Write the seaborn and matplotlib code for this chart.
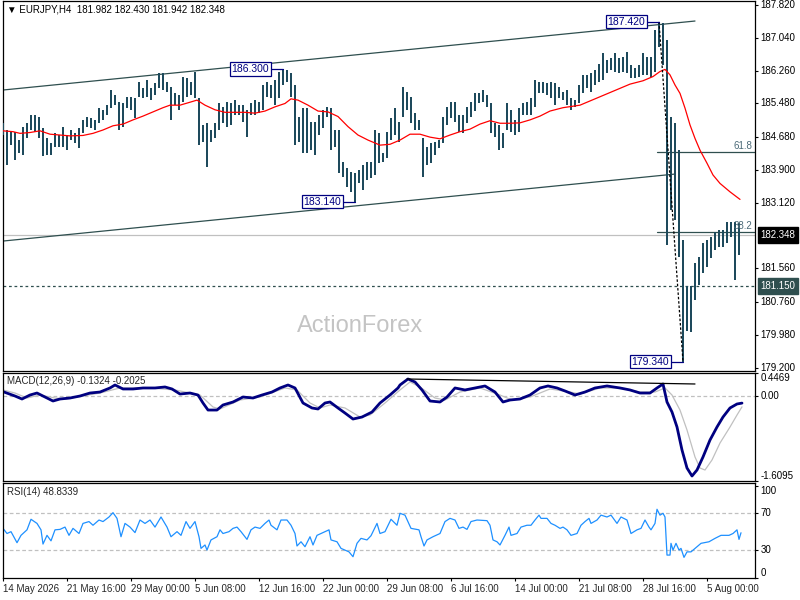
import matplotlib
matplotlib.use("Agg")
import matplotlib.pyplot as plt
import matplotlib.transforms as mtransforms
import numpy as np
import seaborn as sns

# ---- price bars (EURJPY H4), one drawn bar per two H4 bars ----
bar_high = [
    185.01, 184.85, 184.81, 184.81, 184.61, 184.93, 185.01, 185.21, 185.21, 185.17,
    184.89, 184.65, 184.53, 184.77, 184.73, 184.93, 184.73, 184.85, 184.77, 184.89,
    185.09, 185.17, 185.13, 185.09, 185.37, 185.33, 185.44, 185.80, 185.68, 185.52,
    185.48, 185.64, 185.64, 185.60, 186.00, 185.84, 186.04, 185.84, 185.96, 186.20,
    186.20, 186.00, 185.88, 185.72, 185.68, 186.12, 186.08, 186.00, 186.24, 185.60,
    184.97, 185.01, 184.85, 185.01, 185.48, 185.40, 185.52, 185.48, 185.56, 185.44,
    185.44, 185.33, 185.48, 185.56, 185.52, 185.92, 186.00, 185.92, 186.04, 186.22,
    186.30, 186.28, 186.20, 185.92, 185.17, 185.37, 185.37, 185.05, 185.05, 185.21,
    185.33, 185.40, 185.37, 184.85, 184.85, 184.10, 183.94, 183.86, 183.82, 183.90,
    184.02, 184.10, 184.10, 184.85, 184.77, 184.30, 184.81, 185.13, 185.37, 185.05,
    185.88, 185.76, 185.64, 185.25, 185.09, 184.65, 184.45, 184.53, 184.57, 184.61,
    185.17, 185.40, 185.52, 185.52, 185.21, 185.21, 185.40, 185.52, 185.72, 185.72,
    185.80, 185.68, 185.48, 185.01, 184.97, 184.77, 185.48, 185.33, 185.09, 185.37,
    185.48, 185.52, 185.60, 186.04, 186.00, 186.00, 185.96, 186.00, 185.96, 185.88,
    185.76, 185.80, 185.60, 185.56, 185.92, 186.16, 186.16, 186.20, 186.28, 186.43,
    186.67, 186.51, 186.55, 186.67, 186.55, 186.59, 186.71, 186.39, 186.32, 186.39,
    186.67, 186.59, 186.59, 187.23, 187.42, 187.40, 186.99, 185.17, 185.01, 184.37,
    182.23, 181.13, 181.13, 181.68, 181.84, 182.16, 182.23, 182.31, 182.43, 182.47,
    182.47, 182.67, 182.67, 182.67, 182.63,
]
bar_low = [
    184.73, 184.02, 184.49, 184.14, 184.30, 184.26, 184.65, 184.85, 184.81, 184.65,
    184.22, 184.26, 184.26, 184.45, 184.45, 184.45, 184.37, 184.61, 184.53, 184.41,
    184.77, 184.93, 184.89, 184.85, 185.01, 185.09, 185.21, 185.37, 185.44, 184.85,
    184.93, 185.37, 185.33, 185.13, 185.64, 185.60, 185.64, 185.56, 185.68, 185.84,
    185.80, 185.76, 185.09, 185.44, 185.33, 185.52, 185.64, 185.68, 185.60, 184.49,
    184.57, 183.98, 184.57, 184.65, 184.85, 185.01, 184.93, 184.97, 185.21, 185.21,
    185.05, 184.69, 185.21, 185.21, 185.25, 185.33, 185.64, 185.60, 185.44, 185.60,
    185.92, 186.00, 185.64, 184.49, 184.57, 184.30, 184.30, 184.37, 184.26, 184.73,
    184.89, 185.17, 184.37, 184.45, 183.82, 183.74, 183.50, 183.38, 183.14, 183.58,
    183.42, 183.66, 183.70, 183.78, 184.06, 184.10, 184.18, 184.61, 184.73, 184.57,
    185.17, 185.33, 185.01, 184.85, 184.85, 183.74, 184.02, 184.06, 184.26, 184.41,
    184.53, 184.97, 185.13, 185.05, 184.81, 184.77, 185.01, 185.17, 185.29, 185.48,
    185.52, 185.40, 184.77, 184.69, 184.37, 184.41, 184.85, 184.81, 184.73, 184.81,
    185.21, 185.21, 185.21, 185.40, 185.72, 185.72, 185.68, 185.60, 185.44, 185.60,
    185.56, 185.44, 185.33, 185.40, 185.48, 185.72, 185.84, 185.76, 185.92, 186.00,
    186.04, 186.20, 186.28, 186.24, 186.20, 186.24, 186.20, 186.08, 186.08, 186.12,
    186.16, 186.16, 186.12, 186.24, 186.83, 186.39, 182.12, 182.95, 182.71, 181.84,
    179.34, 180.08, 180.05, 180.81, 181.17, 181.44, 181.60, 181.80, 182.00, 182.08,
    182.08, 182.16, 182.31, 181.28, 181.88,
]

# moving average (red)
ma_t = [0, 5, 8.5, 13.5, 18.5, 23.5, 28.5, 33.5, 40, 45,
        50, 55, 60, 65, 70, 75, 80, 83.5, 88.5, 93.5,
        97, 101, 106, 111, 116, 121, 126, 131, 136, 141,
        144, 147.5, 152.5, 157.5, 162.5, 167.5, 172.5, 177.5, 182.5, 188.5,
        193.5, 198.5, 203.5, 208.5, 213.5, 218.5, 223.5, 228.5, 233.5, 238.5,
        243.5, 248.5, 253.5, 258.5, 263.5, 268.5, 273.5, 280, 288.5, 298.5,
        308.5, 313.5, 320, 325, 328.5, 331, 333.5, 336, 338.5, 341,
        343.5, 346, 348.5, 352, 355, 358.5, 363.5, 368.5]
ma_val = [184.83, 184.81, 184.77, 184.79, 184.83, 184.75, 184.73, 184.71, 184.72, 184.77,
          184.85, 184.95, 184.99, 185.09, 185.18, 185.28, 185.38, 185.44, 185.44, 185.51,
          185.56, 185.44, 185.33, 185.27, 185.27, 185.27, 185.25, 185.30, 185.40, 185.48,
          185.59, 185.56, 185.44, 185.30, 185.28, 185.17, 184.93, 184.73, 184.61, 184.49,
          184.51, 184.61, 184.75, 184.75, 184.68, 184.64, 184.73, 184.81, 184.87, 184.99,
          185.07, 185.01, 185.01, 185.02, 185.09, 185.18, 185.30, 185.38, 185.44, 185.64,
          185.84, 185.94, 186.02, 186.12, 186.24, 186.29, 186.16, 185.92, 185.72, 185.37,
          184.97, 184.65, 184.37, 184.06, 183.78, 183.58, 183.38, 183.20]

# MACD(12,26,9)
macd_t = [0, 6, 9.5, 13.5, 17, 21, 25, 28.5, 33.5, 38.5,
          43.5, 48.5, 53.5, 56, 60, 65, 70, 76, 81, 84.5,
          88.5, 93.5, 97.5, 100, 102.5, 107, 110, 115, 120, 125,
          129.5, 134.5, 138.5, 142.5, 146, 150, 154.5, 157.5, 161, 163.5,
          167.5, 171, 175, 179.5, 184.5, 188.5, 193.5, 197.5, 198.5, 202.5,
          206, 209.5, 213.5, 218.5, 222, 226, 231, 236, 241, 246,
          250, 253.5, 258.5, 263.5, 268.5, 272.5, 277, 281, 286, 291,
          296, 302, 308.5, 313.5, 318.5, 323.5, 327, 330, 332, 334.5,
          337, 339.5, 342, 344.5, 347, 350, 353.5, 357, 360, 363.5,
          367, 369.5]
macd_v = [0.086, 0.003, -0.054, 0.022, 0.060, -0.016, -0.092, -0.054, -0.035, 0.003,
          0.060, 0.079, 0.156, 0.213, 0.137, 0.137, 0.156, 0.156, 0.175, 0.137,
          0.041, 0.060, 0.022, -0.130, -0.264, -0.264, -0.168, -0.111, -0.016, -0.035,
          0.022, 0.079, 0.156, 0.213, 0.156, -0.130, -0.225, -0.244, -0.130, -0.111,
          -0.225, -0.321, -0.435, -0.397, -0.302, -0.130, 0.022, 0.156, 0.213, 0.327,
          0.270, 0.118, -0.092, -0.111, -0.016, 0.156, 0.118, 0.156, 0.194, 0.079,
          -0.111, -0.073, -0.054, 0.022, 0.156, 0.194, 0.156, 0.099, 0.022, 0.079,
          0.156, 0.194, 0.156, 0.118, 0.060, 0.060, 0.156, 0.232, -0.111, -0.302,
          -0.587, -1.025, -1.368, -1.520, -1.406, -1.158, -0.835, -0.587, -0.397, -0.225,
          -0.149, -0.132]
sig_t = [0, 6, 12, 18.5, 26, 31, 48.5, 58.5, 73.5, 86,
         93.5, 98.5, 105, 108.5, 118.5, 128.5, 141, 147, 153.5, 158.5,
         163.5, 171, 178.5, 183.5, 191, 198.5, 203.5, 208.5, 216, 221,
         228.5, 238.5, 248.5, 254.5, 263.5, 273.5, 283.5, 288.5, 298.5, 308.5,
         318.5, 326, 331, 334.5, 338.5, 342, 346, 348.5, 351, 354.5,
         358.5, 363.5, 367, 369.5]
sig_v = [0.118, 0.060, -0.035, 0.022, -0.035, -0.054, 0.060, 0.156, 0.156, 0.118,
         0.060, 0.022, -0.206, -0.244, -0.073, -0.016, 0.156, 0.118, -0.130, -0.225,
         -0.168, -0.225, -0.397, -0.359, -0.130, 0.118, 0.270, 0.175, -0.035, -0.073,
         0.079, 0.156, 0.022, -0.073, -0.016, 0.137, 0.079, 0.041, 0.156, 0.156,
         0.079, 0.079, 0.156, 0.022, -0.264, -0.644, -1.158, -1.368, -1.406, -1.215,
         -0.892, -0.587, -0.359, -0.203]

# RSI(14)
rsi_t = [0, 2, 4, 7, 9, 12, 14, 17, 19, 20,
         22, 24, 26, 28.5, 31, 33, 35, 38, 40, 43,
         45, 48, 50, 53, 55, 57, 59, 61, 63.5, 66,
         68.5, 71, 73.5, 76, 79, 82, 84, 87, 89, 91.5,
         93.5, 96, 98, 99, 101, 102, 104, 107, 108.5, 110,
         113, 115, 117, 119, 122, 124, 126, 128.5, 131, 133,
         134, 137, 139, 142, 144, 146, 147, 149, 151, 153.5,
         155, 157, 159, 163, 164, 167, 169, 173, 175, 177,
         179, 182, 184, 187, 188.5, 191, 194, 197, 198.5, 201,
         204, 208, 209, 210.5, 212, 215, 218.5, 221, 223.5, 226,
         228, 230, 232, 234, 237, 242, 243.5, 245, 247, 248.5,
         251, 253, 254, 257, 259, 262, 264, 266, 268, 269,
         272, 274, 276, 278.5, 280, 282, 284, 287, 289, 291,
         293, 294, 297, 299, 302, 304, 307, 309, 312, 314,
         317, 319, 321, 323, 324, 326, 327, 328.5, 330, 331,
         332, 333.5, 334, 335, 336.5, 338, 339, 340.5, 342, 344,
         347, 349, 353, 356, 359, 363, 365, 367, 368, 369]
rsi_v = [53.6, 48, 50, 38, 46, 52, 63.5, 59, 52, 36.5,
         46, 40, 52, 52.5, 55, 46, 53.6, 48, 59, 61,
         57, 62.7, 61, 66, 70.7, 64.5, 44.5, 59, 55, 49,
         62.7, 59, 62.7, 55, 66, 55, 44.5, 50, 46, 61,
         53.6, 61, 44.5, 31.8, 35.5, 30, 41, 44.5, 52, 48,
         50, 53.6, 55, 50, 41.6, 52, 55, 53.6, 59, 62.7,
         57, 52, 62.7, 62.7, 57, 48, 34.4, 39, 33.6, 44.5,
         35.5, 46, 48, 52, 41, 39, 31.8, 28, 22.7, 37.3,
         42.7, 41, 45.6, 59, 48, 50, 63.5, 57, 70, 68,
         53.6, 52, 44.5, 34.4, 41, 44.5, 48, 61, 64.5, 62.7,
         53.6, 55, 52.5, 61, 62.7, 62, 57, 41, 39, 35.5,
         46, 55, 46, 48, 55, 57, 57, 62.7, 68, 64.5,
         64.5, 59, 57, 53.6, 55, 52, 46, 48, 57, 61,
         64.5, 59, 62.7, 68, 66, 68, 59, 66, 62.7, 48,
         52, 53.6, 62.7, 55, 52, 59, 74.4, 68, 70, 66,
         24.5, 24.5, 37.3, 30, 37.3, 30, 31.8, 22, 28, 28,
         33.6, 37.3, 39, 42.7, 46, 46, 48, 52, 41.6, 48.83]

# swing labels, channel, levels
swing_t = [140, 176, 328, 340]
swing_price = [186.30, 183.14, 187.42, 179.34]
upper_t, upper_p = [0, 346], [185.80, 187.44]
lower_t, lower_p = [0, 335.5], [182.21, 183.80]
macd_trend_t, macd_trend_v = [202, 346], [0.327, 0.232]
fib_ratios = [61.8, 38.2]
last_price = 182.348
support = 181.150

date_labels = ['14 May 2026', '21 May 16:00', '29 May 00:00', '5 Jun 08:00',
               '12 Jun 16:00', '22 Jun 00:00', '29 Jun 08:00', '6 Jul 16:00',
               '14 Jul 00:00', '21 Jul 08:00', '28 Jul 16:00', '5 Aug 00:00']
price_ticks = [187.82, 187.04, 186.26, 185.48, 184.68, 183.90, 183.12,
               181.56, 180.76, 179.98, 179.20]
rsi_ticks = [100, 70, 30, 0]

# ---- style ----
sns.set_style("white")
plt.rcParams['font.family'] = ['Liberation Sans', 'DejaVu Sans']
BAR = '#1e4a5c'
SLATE = '#2f4f4f'
SILVER = '#c0c0c0'
NAVY = '#000080'
FS = 7

fig = plt.figure(figsize=(8, 6), dpi=100, facecolor='white')
W, H = 800.0, 600.0


def box(x0, y0, x1, y1):
    return [x0 / W, 1 - y1 / H, (x1 - x0) / W, (y1 - y0) / H]


ax_main = fig.add_axes(box(2.5, 1.0, 754.5, 370.5))
ax_macd = fig.add_axes(box(2.5, 372.7, 754.5, 480.7))
ax_rsi = fig.add_axes(box(2.5, 483.3, 754.5, 578.3))

for ax in (ax_main, ax_macd, ax_rsi):
    ax.set_xlim(-0.25, 375.75)
    ax.set_facecolor('white')
    for sp in ax.spines.values():
        sp.set_color('black')
        sp.set_linewidth(0.9)
    ax.grid(False)
    ax.set_xticks([])
    ax.tick_params(axis='y', left=False, right=True, labelleft=False, labelright=False,
                   length=2.5, width=0.8, direction='out', color='black')


def rlabel(ax, y, s, va='center', fc=None):
    tr = mtransforms.blended_transform_factory(ax.transAxes, ax.transData)
    kw = {}
    if fc is not None:
        kw['bbox'] = dict(boxstyle='square,pad=0.3', fc=fc, ec=fc)
    ax.text(1.008, y, s, transform=tr, ha='left', va=va, fontsize=FS,
            color='white' if fc else 'black', clip_on=False, **kw)


# ---- main panel ----
ax_main.set_ylim(179.133, 187.916)
ax_main.set_yticks(price_ticks)
for v in price_ticks:
    rlabel(ax_main, v, f'{v:.3f}')

fig.text(360.5 / W, 1 - 326 / H, 'ActionForex', fontsize=17, color='#c4c4c4',
         ha='center', va='center', zorder=0)

bar_t = np.arange(len(bar_high)) * 2
ax_main.vlines(bar_t, bar_low, bar_high, color=BAR, lw=1.44, antialiased=False, zorder=3)
sns.lineplot(x=ma_t, y=ma_val, ax=ax_main, color='red', lw=0.9, sort=False,
             estimator=None, zorder=4)

ax_main.plot(upper_t, upper_p, color=SLATE, lw=0.9, zorder=2)
ax_main.plot(lower_t, lower_p, color=SLATE, lw=0.9, zorder=2)

ax_main.axhline(last_price, color=SILVER, lw=0.9, zorder=1)
ax_main.axhline(support, color=SLATE, lw=0.9, ls=(0, (2.2, 2.2)), zorder=1)
rlabel(ax_main, last_price, f'{last_price:.3f}', fc='black')
rlabel(ax_main, support, f'{support:.3f}', fc=SLATE)

hi, lo = swing_price[2], swing_price[3]
for r in fib_ratios:
    lvl = lo + r / 100 * (hi - lo)
    ax_main.plot([swing_t[2] - 1, 375.75], [lvl, lvl], color=SLATE, lw=0.9, zorder=2)
    ax_main.text(374.5, lvl + 0.02, f'{r:.1f}', ha='right', va='bottom',
                 fontsize=FS, color='#4b6a78', zorder=6)
ax_main.plot([swing_t[2], swing_t[3]], [hi, lo], color='black', lw=0.9,
             ls=(0, (2, 1.5)), zorder=5)

for t, p in zip(swing_t, swing_price):
    ax_main.plot([t - 6, t], [p, p], color=NAVY, lw=0.9, zorder=6)
    ax_main.text(t - 7, p, f'{p:.3f}', ha='right', va='center', fontsize=FS + 0.5,
                 color=NAVY, zorder=7,
                 bbox=dict(boxstyle='square,pad=0.15', fc='white', ec=NAVY, lw=0.9))

fig.text(7 / W, 1 - 10 / H, '\u25bc EURJPY,H4  181.982 182.430 181.942 182.348',
         fontsize=FS, va='center', ha='left', color='black')

# ---- MACD panel ----
ax_macd.set_ylim(-1.6095, 0.4469)
ax_macd.set_yticks([0.4469, 0.0, -1.6095])
ax_macd.axhline(0, color=SILVER, lw=0.9, ls=(0, (3, 2)))
sns.lineplot(x=sig_t, y=sig_v, ax=ax_macd, color=SILVER, lw=0.9, sort=False, estimator=None)
sns.lineplot(x=macd_t, y=macd_v, ax=ax_macd, color=NAVY, lw=2.0, sort=False, estimator=None)
ax_macd.plot(macd_trend_t, macd_trend_v, color='black', lw=0.9)
rlabel(ax_macd, 0.4469, '0.4469', va='top')
rlabel(ax_macd, 0.0, '0.00')
rlabel(ax_macd, -1.6095, '-1.6095', va='bottom')
fig.text(7 / W, 1 - 381 / H, 'MACD(12,26,9) -0.1324 -0.2025', fontsize=FS,
         va='center', ha='left')

# ---- RSI panel ----
ax_rsi.set_ylim(-0.8, 102.7)
ax_rsi.set_yticks(rsi_ticks)
for lv in (70, 30):
    ax_rsi.axhline(lv, color=SILVER, lw=0.9, ls=(0, (3, 2)))
sns.lineplot(x=rsi_t, y=rsi_v, ax=ax_rsi, color='#1e90ff', lw=0.9, sort=False, estimator=None)
rlabel(ax_rsi, 100, '100', va='top')
rlabel(ax_rsi, 70, '70')
rlabel(ax_rsi, 30, '30')
rlabel(ax_rsi, 0, '0', va='bottom')
fig.text(7 / W, 1 - 492 / H, 'RSI(14) 48.8339', fontsize=FS, va='center', ha='left')

ax_rsi.set_xticks(np.arange(len(date_labels)) * 32)
ax_rsi.set_xticklabels(date_labels, ha='left', fontsize=FS)
ax_rsi.tick_params(axis='x', bottom=True, length=2.5, width=0.8, pad=1.5,
                   direction='out', color='black')

for ax in (ax_main, ax_macd, ax_rsi):
    ax.set_xlabel('')
    ax.set_ylabel('')

fig.savefig('out.png', dpi=100, facecolor='white')
